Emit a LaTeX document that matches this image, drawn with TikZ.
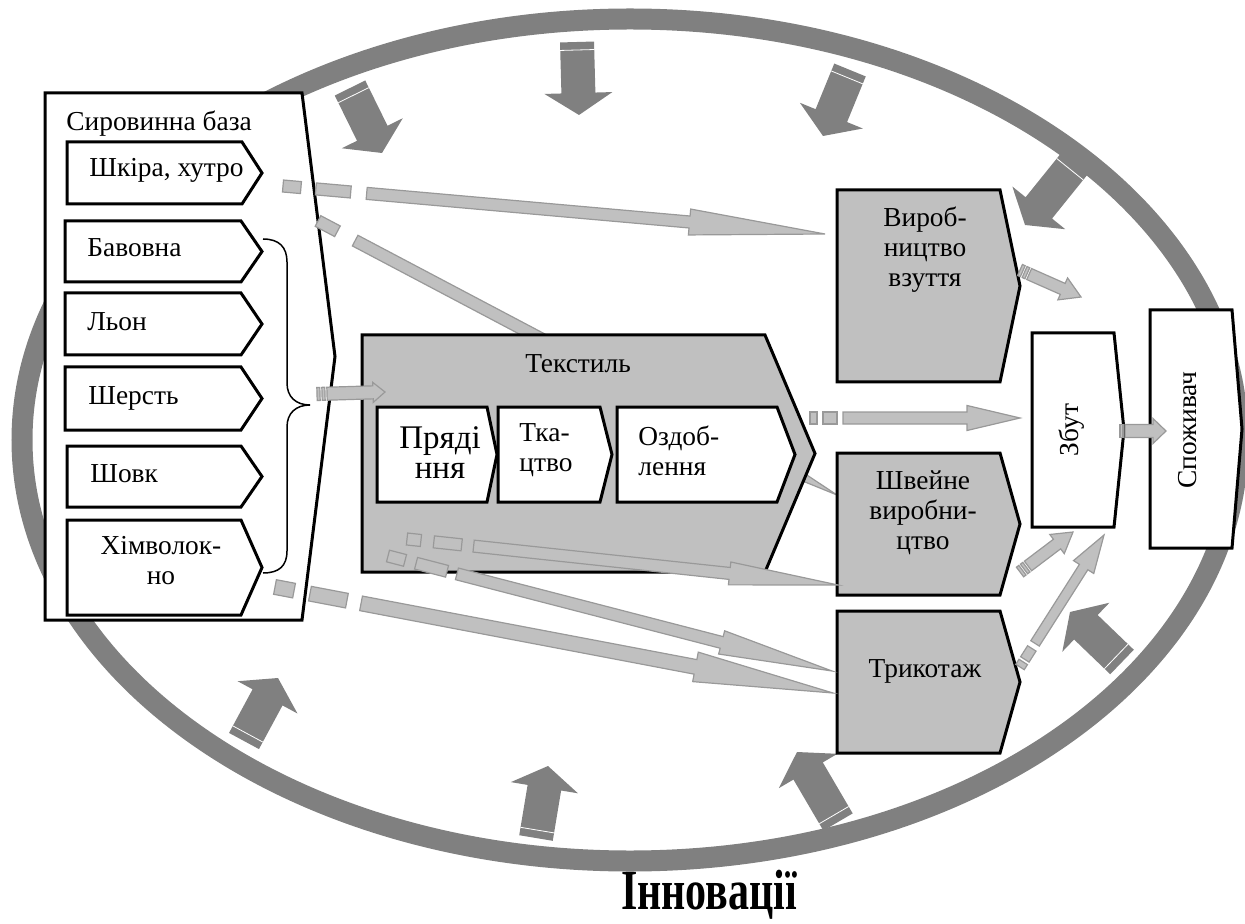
\documentclass[tikz,border=0pt]{standalone}
\usepackage{fontspec}
\usepackage{graphicx}
\setmainfont{Liberation Serif}
\usetikzlibrary{calc}

\definecolor{ringgray}{HTML}{808080}
\definecolor{boxgray}{HTML}{C0C0C0}
\definecolor{flowedge}{HTML}{999999}

\newcommand\basefont{\fontsize{13.7}{15}\selectfont\lineskiplimit -50pt\relax}
\newcommand\bigfont{\fontsize{16.5}{15}\selectfont\lineskiplimit -50pt\relax}

% light grey block arrow: from, to, shaft start, half shaft, half head, head length
\newcommand\flowarrow[6]{%
  \coordinate (fs) at ($(#1)!#3!(#2)$);
  \coordinate (fh) at ($(#2)!#6!(#1)$);
  \draw[flow] ($(fs)!#4!90:(#2)$) -- ($(fh)!#4!-90:(#1)$) -- ($(fh)!#5!-90:(#1)$) -- (#2)
    -- ($(fh)!#5!90:(#1)$) -- ($(fh)!#4!90:(#1)$) -- ($(fs)!#4!-90:(#2)$) -- cycle;}
% one piece of a broken tail: from, to, start, end, half width
\newcommand\flowbit[5]{%
  \coordinate (fs) at ($(#1)!#3!(#2)$);
  \coordinate (fe) at ($(#1)!#4!(#2)$);
  \draw[flow] ($(fs)!#5!90:(fe)$) -- ($(fe)!#5!-90:(fs)$) -- ($(fe)!#5!90:(fs)$) -- ($(fs)!#5!-90:(fe)$) -- cycle;}
% dark grey arrow of innovations: tail, tip
\newcommand\innoarrow[2]{%
  \coordinate (ih) at ($(#2)!11pt!(#1)$);
  \coordinate (is) at ($(#1)!4pt!(#2)$);
  \fill[innov] ($(#1)!8.5pt!90:(#2)$) -- ($(ih)!8.5pt!-90:(#1)$) -- ($(ih)!17pt!-90:(#1)$) -- (#2)
    -- ($(ih)!17pt!90:(#1)$) -- ($(ih)!8.5pt!90:(#1)$) -- ($(#1)!8.5pt!-90:(#2)$) -- cycle;
  \draw[white, line width=0.4pt] ($(is)!8.5pt!90:(#2)$) -- ($(is)!8.5pt!-90:(#2)$);}
% chevron box: left, top, right, tip, bottom
\newcommand\chevron[6][]{%
  \draw[chev,#1] (#2,#3) -- (#4,#3) -- (#5,{(#3+#6)/2}) -- (#4,#6) -- (#2,#6) -- cycle;}

\begin{document}
\begin{tikzpicture}[x=0.5pt,y=-0.5pt,
  every node/.style={font=\basefont, inner sep=0pt},
  big/.style={font=\bigfont},
  ring/.style={draw=ringgray, line width=10.5pt},
  innov/.style={fill=ringgray},
  flow/.style={draw=flowedge, fill=boxgray, line width=0.6pt, line join=miter},
  chev/.style={draw=black, fill=white, line width=1.5pt, line join=miter}]
\useasboundingbox (0,0) rectangle (1245,924);

% ring of innovations
\draw[ring] (630,440) ellipse [x radius=608, y radius=421];
\foreach \xa/\ya/\xb/\yb in {350/88/382/153, 577/42/579/115, 850/70/823/136, 1075/163/1025/225,
    1122/662/1070/612, 838/822/797/752, 536/838/548/766, 244/741/278/678}{
  \coordinate (inno-tail) at (\xa,\ya);
  \coordinate (inno-tip) at (\xb,\yb);
  \innoarrow{inno-tail}{inno-tip}
}
\node[font=\bfseries\fontsize{21}{24}\selectfont] (innovations) at (709,895) {\scalebox{1}[1.35]{Інновації}};

% raw materials
\chevron{45}{93}{302}{335}{620}
\node[anchor=base west] (raw) at (66,131) {Сировинна база};
\chevron{67}{142}{242}{262}{204}
\node[anchor=base west] (leather) at (89,177) {Шкіра, хутро};
\chevron{65}{221}{241}{262}{282}
\node[anchor=base west] (cotton) at (87,257) {Бавовна};
\chevron{65}{293}{241}{262}{355}
\node[anchor=base west] (flax) at (87,331) {Льон};
\chevron{65}{367}{241}{262}{430}
\node[anchor=base west] (wool) at (88,405) {Шерсть};
\chevron{67}{446}{241}{262}{507}
\node[anchor=base west] (silk) at (90,482) {Шовк};
\chevron{67}{520}{241}{262}{615}
\node[align=center] (chem) at (161,561) {Хімволок-\\но};
\draw[line width=0.75pt] (263,239) .. controls (279,239) and (287,247) .. (287,262) -- (287,383)
  .. controls (287,397) and (296,405) .. (310,405) .. controls (296,405) and (287,413) .. (287,427)
  -- (287,551) .. controls (287,566) and (279,573) .. (263,573);

% leather to sewing runs behind the textile box
\coordinate (leather-b) at (318,221);
\coordinate (sew-b) at (837,495);
\flowbit{leather-b}{sew-b}{0pt}{11pt}{3pt}
\flowarrow{leather-b}{sew-b}{21pt}{3pt}{6pt}{60pt}

% textile
\chevron[fill=boxgray]{362}{335}{765}{815}{572}
\node[anchor=base] (textile) at (578,372) {Текстиль};
\chevron{377}{407}{487}{497}{502}
\node[big, align=center] (spinning) at (440,453) {Пряді\\ння};
\chevron{498}{407}{600}{612}{502}
\node[align=left, anchor=west] (weaving) at (519,450) {Тка-\\цтво};
\chevron{617}{407}{777}{795}{502}
\node[align=left, anchor=west] (finishing) at (638,451) {Оздоб-\\лення};

% branches
\chevron[fill=boxgray]{837}{190}{1000}{1020}{382}
\node[align=center] (shoes) at (925,250) {Вироб-\\ництво\\взуття};
\chevron[fill=boxgray]{837}{453}{1000}{1020}{595}
\node[align=center] (sewing) at (923,513) {Швейне\\виробни-\\цтво};
\chevron[fill=boxgray]{837}{611}{1000}{1020}{753}
\node[anchor=base] (knitting) at (925,677) {Трикотаж};
\chevron{1032}{333}{1114}{1124}{527}
\node[rotate=90] (sales) at (1072,430) {Збут};
\chevron{1150}{310}{1232}{1242}{548}
\node[rotate=90] (consumer) at (1188,430) {Споживач};

% flows
\coordinate (leather-a) at (283,186);
\coordinate (shoes-a) at (825,234);
\flowbit{leather-a}{shoes-a}{0pt}{9pt}{3pt}
\flowbit{leather-a}{shoes-a}{16.5pt}{34pt}{3pt}
\flowarrow{leather-a}{shoes-a}{42pt}{3pt}{6.5pt}{68pt}

\coordinate (fibres) at (317,394);
\coordinate (textile-in) at (385,392);
\flowbit{fibres}{textile-in}{0pt}{1.5pt}{3.25pt}
\flowbit{fibres}{textile-in}{2.5pt}{4pt}{3.25pt}
\flowarrow{fibres}{textile-in}{5pt}{3.25pt}{5pt}{6pt}

\coordinate (textile-out) at (810,418);
\coordinate (sales-in) at (1020,418);
\flowbit{textile-out}{sales-in}{0pt}{3.5pt}{3pt}
\flowbit{textile-out}{sales-in}{6.5pt}{13.5pt}{3pt}
\flowarrow{textile-out}{sales-in}{16.5pt}{3pt}{6.25pt}{26.5pt}

\coordinate (cloth-a) at (407,539);
\coordinate (sew-a) at (838,585);
\flowbit{cloth-a}{sew-a}{0pt}{7pt}{3pt}
\flowbit{cloth-a}{sew-a}{13.5pt}{27.5pt}{3pt}
\flowarrow{cloth-a}{sew-a}{33.5pt}{3pt}{5.75pt}{54.5pt}

\coordinate (cloth-b) at (388,556);
\coordinate (knit-a) at (832,671);
\flowbit{cloth-b}{knit-a}{0pt}{8.8pt}{3pt}
\flowbit{cloth-b}{knit-a}{14.5pt}{30.5pt}{3pt}
\flowarrow{cloth-b}{knit-a}{35.6pt}{3pt}{6pt}{57pt}

\coordinate (chem-out) at (275,587);
\coordinate (knit-b) at (833,693);
\flowbit{chem-out}{knit-b}{0pt}{9.7pt}{3.7pt}
\flowbit{chem-out}{knit-b}{17.8pt}{36.6pt}{3.7pt}
\flowarrow{chem-out}{knit-b}{43.8pt}{3.7pt}{7.5pt}{70pt}

\coordinate (shoes-out) at (1020,270);
\coordinate (sales-a) at (1081,297);
\flowbit{shoes-out}{sales-a}{0pt}{1.5pt}{3pt}
\flowbit{shoes-out}{sales-a}{2.5pt}{4pt}{3pt}
\flowarrow{shoes-out}{sales-a}{5pt}{3pt}{6pt}{10pt}

\coordinate (sew-out) at (1020,572);
\coordinate (sales-b) at (1073,532);
\flowbit{sew-out}{sales-b}{0pt}{1.5pt}{3pt}
\flowbit{sew-out}{sales-b}{2.5pt}{4pt}{3pt}
\flowarrow{sew-out}{sales-b}{5pt}{3pt}{6pt}{10pt}

\coordinate (knit-out) at (1020,667);
\coordinate (sales-c) at (1104,535);
\flowbit{knit-out}{sales-c}{0pt}{3pt}{2.5pt}
\flowbit{knit-out}{sales-c}{4.5pt}{11pt}{2.5pt}
\flowarrow{knit-out}{sales-c}{14pt}{2.5pt}{6pt}{19pt}

\coordinate (sales-out) at (1120,431);
\coordinate (consumer-in) at (1166,431);
\flowbit{sales-out}{consumer-in}{0pt}{1.5pt}{3.25pt}
\flowarrow{sales-out}{consumer-in}{2.5pt}{3.25pt}{6.25pt}{6.5pt}
\end{tikzpicture}
\end{document}
